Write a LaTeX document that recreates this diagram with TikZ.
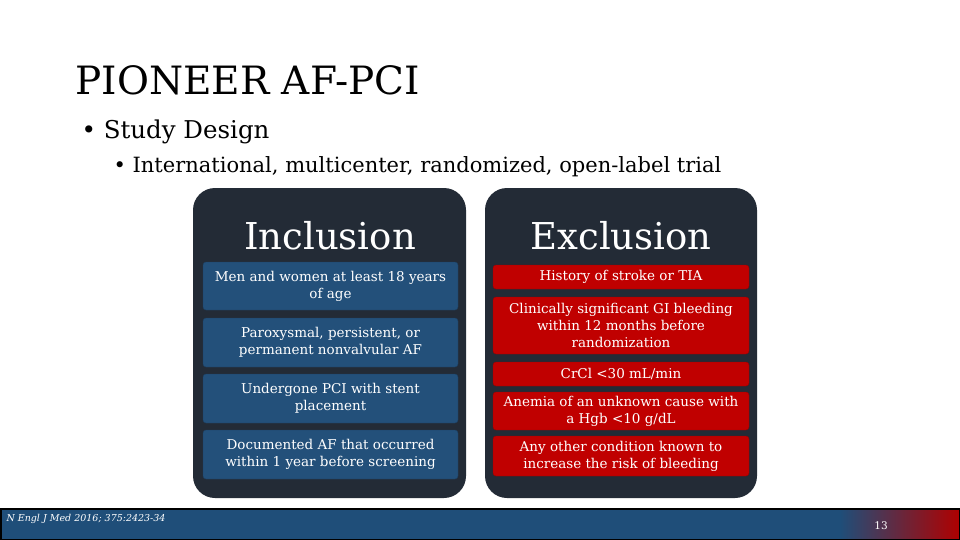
\documentclass[tikz,border=0pt]{standalone}
\usepackage{fontspec}
\setmainfont{DejaVu Serif}
\definecolor{panel}{HTML}{232B36}
\definecolor{bluebox}{HTML}{23507A}
\definecolor{redbox}{HTML}{C00000}
\definecolor{barblue}{HTML}{1F4E79}
\definecolor{barred}{HTML}{B00000}
\begin{document}
\begin{tikzpicture}[x=1pt,y=-1pt,
  panelbox/.style={fill=panel,rounded corners=22pt},
  inc/.style={fill=bluebox,draw=bluebox!80!black,rounded corners=3pt,text=white,align=center,font=\fontsize{13.5}{17}\selectfont,inner sep=0pt},
  exc/.style={fill=redbox,draw=redbox!80!black,rounded corners=3pt,text=white,align=center,font=\fontsize{13.5}{17}\selectfont,inner sep=0pt},
  head/.style={text=white,font=\fontsize{37}{40}\selectfont}]
\useasboundingbox (0,0) rectangle (960,540);
\fill[white] (0,0) rectangle (960,540);
\node[anchor=base west,font=\fontsize{39}{42}\selectfont] (title) at (72,95) {PIONEER AF-PCI};
\node[anchor=base west,font=\fontsize{24.5}{28}\selectfont] (b1) at (78,139) {\textbullet\ Study Design};
\node[anchor=base west,font=\fontsize{21}{24}\selectfont] (b2) at (110,172) {\textbullet\ International, multicenter, randomized, open-label trial};
\fill[panelbox] (193,188) rectangle (466,498);
\fill[panelbox] (485,188) rectangle (757,498);
\node[head] (ih) at (330,236) {Inclusion};
\node[head] (eh) at (621,236) {Exclusion};
\node[inc,minimum width=255,minimum height=48] (i1) at (330.5,286) {Men and women at least 18 years\\of age};
\node[inc,minimum width=255,minimum height=49] (i2) at (330.5,342.5) {Paroxysmal, persistent, or\\permanent nonvalvular AF};
\node[inc,minimum width=255,minimum height=49] (i3) at (330.5,398.5) {Undergone PCI with stent\\placement};
\node[inc,minimum width=255,minimum height=49] (i4) at (330.5,454.5) {Documented AF that occurred\\within 1 year before screening};
\node[exc,minimum width=256,minimum height=24] (e1) at (621,277) {History of stroke or TIA};
\node[exc,minimum width=256,minimum height=57] (e2) at (621,325.5) {Clinically significant GI bleeding\\within 12 months before\\randomization};
\node[exc,minimum width=256,minimum height=24] (e3) at (621,374) {CrCl <30 mL/min};
\node[exc,minimum width=256,minimum height=38] (e4) at (621,411) {Anemia of an unknown cause with\\a Hgb <10 g/dL};
\node[exc,minimum width=256,minimum height=40] (e5) at (621,456) {Any other condition known to\\increase the risk of bleeding};
\fill[barblue] (0,508) rectangle (840,540);
\shade[left color=barblue,right color=barred] (840,508) rectangle (960,540);
\draw[black,line width=1.5pt] (0.75,508.75) rectangle (959.25,539.25);
\node[anchor=west,text=white,font=\itshape\fontsize{9.5}{10}\selectfont] (ref) at (3,519) {N Engl J Med 2016; 375:2423-34};
\node[text=white,font=\fontsize{10.5}{12}\selectfont] (pg) at (881,526) {13};
\end{tikzpicture}
\end{document}
